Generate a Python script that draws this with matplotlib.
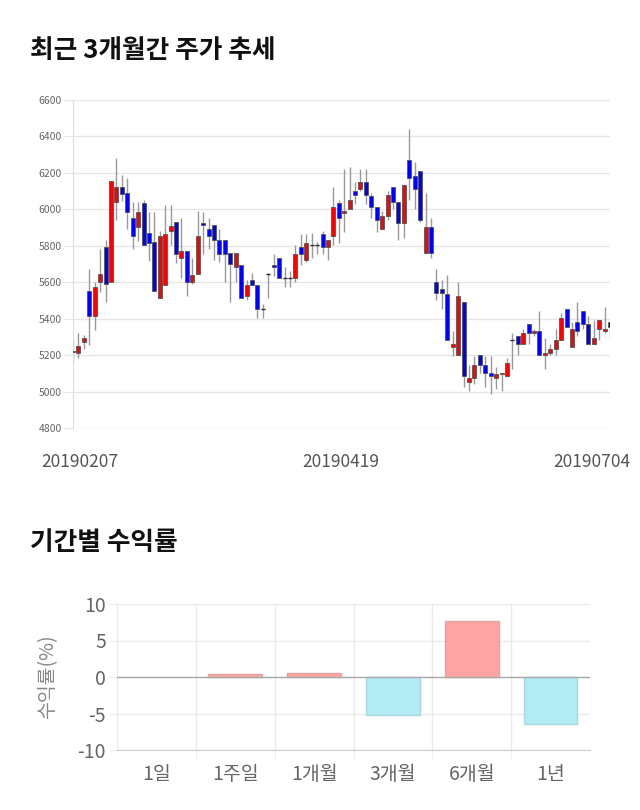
import numpy as np
import matplotlib
matplotlib.use('Agg')
import matplotlib.pyplot as plt

plt.rcParams['font.family'] = ['Noto Sans CJK KR', 'DejaVu Sans']

# daily candles, 2019-02-07 .. 2019-07-04
opens = [5222, 5212, 5273, 5554, 5413, 5601, 5793, 5601, 6041, 6122,
         6092, 5952, 5902, 6034, 5870, 5822, 5514, 5583, 5881, 5932,
         5733, 5771, 5601, 5645, 5924, 5893, 5912, 5831, 5831, 5762,
         5682, 5692, 5523, 5612, 5583, 5453, 5645, 5692, 5733, 5621,
         5621, 5621, 5793, 5720, 5804, 5804, 5862, 5793, 5851, 6034,
         5981, 6001, 6102, 6111, 6151, 6072, 6012, 5892, 5963, 6122,
         6041, 5923, 6271, 6182, 6211, 5762, 5904, 5601, 5563, 5534,
         5243, 5203, 5492, 5053, 5073, 5203, 5143, 5103, 5073, 5094,
         5084, 5283, 5304, 5263, 5373, 5324, 5333, 5203, 5214, 5234,
         5283, 5453, 5243, 5384, 5444, 5373, 5263, 5344, 5333, 5384]
highs = [5285, 5322, 5313, 5674, 5601, 5784, 5833, 6155, 6280, 6189,
         6171, 6039, 6039, 6052, 5983, 5983, 5879, 6025, 6025, 5932,
         5955, 5771, 5733, 5992, 5983, 5955, 5912, 5893, 5831, 5762,
         5762, 5692, 5614, 5652, 5583, 5482, 5652, 5753, 5733, 5682,
         5662, 5804, 5862, 5862, 5870, 5822, 5882, 5831, 6123, 6052,
         6222, 6231, 6151, 6222, 6222, 6092, 6012, 5992, 6102, 6122,
         6041, 6133, 6441, 6260, 6211, 6091, 5952, 5672, 5612, 5641,
         5333, 5601, 5492, 5143, 5194, 5203, 5194, 5194, 5134, 5103,
         5185, 5324, 5304, 5344, 5373, 5344, 5444, 5294, 5263, 5344,
         5433, 5453, 5384, 5493, 5444, 5413, 5393, 5393, 5464, 5384]
lows = [5161, 5183, 5234, 5254, 5336, 5545, 5492, 5600, 5943, 6043,
        5892, 5782, 5824, 5804, 5714, 5552, 5514, 5583, 5802, 5705,
        5623, 5523, 5592, 5645, 5755, 5782, 5720, 5711, 5601, 5492,
        5601, 5512, 5501, 5583, 5402, 5402, 5512, 5632, 5621, 5572,
        5572, 5601, 5692, 5711, 5733, 5753, 5753, 5720, 5802, 5813,
        5873, 6001, 6032, 6102, 6032, 5952, 5873, 5892, 5943, 6001,
        5833, 5842, 6052, 6003, 5932, 5762, 5733, 5503, 5453, 5283,
        5194, 5203, 5024, 5002, 5044, 5103, 5024, 4984, 5013, 5002,
        5084, 5123, 5203, 5263, 5263, 5304, 5203, 5123, 5203, 5203,
        5283, 5353, 5243, 5304, 5344, 5263, 5263, 5283, 5324, 5294]
closes = [5215, 5252, 5294, 5413, 5574, 5645, 5592, 6153, 6122, 6083,
          5983, 5855, 5983, 5804, 5813, 5552, 5855, 5864, 5906, 5753,
          5771, 5601, 5641, 5855, 5913, 5851, 5831, 5753, 5753, 5702,
          5762, 5512, 5583, 5583, 5453, 5453, 5645, 5683, 5621, 5621,
          5621, 5753, 5753, 5813, 5804, 5804, 5793, 5831, 6014, 5952,
          5992, 6052, 6081, 6151, 6081, 6012, 5943, 5963, 6081, 6041,
          5923, 6133, 6171, 6112, 5941, 5904, 5762, 5543, 5543, 5283,
          5263, 5523, 5084, 5073, 5143, 5143, 5103, 5084, 5094, 5103,
          5154, 5283, 5263, 5324, 5324, 5333, 5203, 5214, 5234, 5283,
          5404, 5353, 5344, 5333, 5373, 5263, 5294, 5393, 5344, 5353]
date_labels = ['20190207', '20190419', '20190704']

periods = ['1일', '1주일', '1개월', '3개월', '6개월', '1년']
returns = [0.0, 0.36, 0.55, -5.27, 7.73, -6.45]

fig = plt.figure(figsize=(6.4, 8.1), dpi=100)

# ---- candlestick chart
ax = fig.add_axes([73/640, 1-428/810, 537/640, 328/810])
o = np.array(opens); h = np.array(highs); l = np.array(lows); c = np.array(closes)
x = np.arange(len(o))
up = c >= o
ax.vlines(x, l, h, color='#999999', lw=1, zorder=2)
bot = np.minimum(o, c)
hgt = np.abs(c - o)
cols = np.where(up, '#ff0000', '#0000ff')
ax.bar(x, hgt, bottom=bot, width=0.74, color=cols, edgecolor='#555555',
       linewidth=0.6, zorder=3)
flat = hgt == 0
ax.hlines(o[flat], x[flat]-0.37, x[flat]+0.37, color='#333333', lw=1, zorder=3)

ax.set_xlim(0, len(o)-1)
ax.set_ylim(4800, 6600)
ax.set_yticks(np.arange(4800, 6601, 200))
ax.tick_params(axis='y', labelsize=7.5, labelcolor='#666666', length=7,
               color='#e6e6e6', pad=1)
ax.grid(axis='y', color='#e6e6e6', lw=1)
ax.set_axisbelow(True)
for s in ['top', 'right', 'bottom']:
    ax.spines[s].set_visible(False)
ax.spines['left'].set_color('#dddddd')
ax.set_xticks([1.3, 49.4, 95.7])
ax.set_xticklabels(date_labels)
ax.tick_params(axis='x', length=0, pad=18, labelsize=12.5, labelcolor='#555555')

fig.text(30/640, 1-50/810, '최근 3개월간 주가 추세', fontsize=18.5, fontweight='bold',
         va='center', ha='left', color='#111111')

# ---- period returns
ax2 = fig.add_axes([117/640, 1-750/810, 473/640, 146/810])
bx = np.arange(len(periods))
rv = np.array(returns)
fc = np.where(rv >= 0, '#ffa3a3', '#b2ebf3')
ec = np.where(rv >= 0, '#e3a3a3', '#a6d9e0')
lw = np.where(rv == 0, 0, 1)
ax2.bar(bx, rv, width=0.68, color=fc, edgecolor=ec, linewidth=lw, zorder=3)
ax2.set_xlim(-0.5, len(periods)-0.5)
ax2.set_ylim(-10, 10)
ax2.set_yticks([-10, -5, 0, 5, 10])
ax2.set_yticklabels(['-10', '-5', '0', '5', '10'])
ax2.grid(axis='y', color='#ebebeb', lw=1)
ax2.axhline(0, color='#aaaaaa', lw=1, zorder=4)
ax2.set_xticks(bx)
ax2.set_xticklabels(periods)
ax2.set_xticks(bx[:-1] + 0.5, minor=True)
ax2.grid(axis='x', which='minor', color='#ebebeb', lw=1)
ax2.tick_params(axis='x', which='major', length=0, pad=10, labelsize=14,
                labelcolor='#666666')
ax2.tick_params(axis='x', which='minor', length=7, color='#ebebeb')
ax2.tick_params(axis='y', length=6, color='#ebebeb', labelsize=14,
                labelcolor='#666666', pad=2)
ax2.set_axisbelow(True)
for s in ['top', 'right']:
    ax2.spines[s].set_visible(False)
ax2.spines['left'].set_color('#ebebeb')
ax2.spines['bottom'].set_color('#cccccc')
ax2.set_ylabel('수익률(%)', fontsize=14, color='#888888', labelpad=14)

fig.text(30/640, 1-543/810, '기간별 수익률', fontsize=18.5, fontweight='bold',
         va='center', ha='left', color='#111111')

fig.savefig('out.png', dpi=100)
